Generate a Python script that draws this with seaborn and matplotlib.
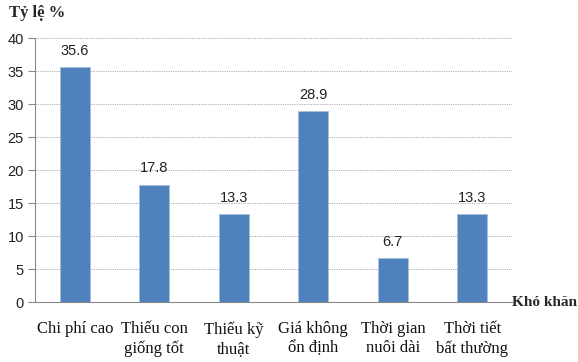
import matplotlib
matplotlib.use("Agg")
import matplotlib.pyplot as plt
import seaborn as sns
import pandas as pd

categories = ["Chi phí cao", "Thiếu con\ngiống tốt", "Thiếu kỹ\nthuật",
              "Giá không\nổn định", "Thời gian\nnuôi dài", "Thời tiết\nbất thường"]
values = [35.6, 17.8, 13.3, 28.9, 6.7, 13.3]
yticks = [0, 5, 10, 15, 20, 25, 30, 35, 40]

sns.set_theme(style="white")
plt.rcParams["font.family"] = ["Liberation Sans", "DejaVu Sans"]
serif = ["Liberation Serif", "DejaVu Serif"]

df = pd.DataFrame({"kho_khan": categories, "ty_le": values})

fig = plt.figure(figsize=(5.78, 3.62), dpi=100)
ax = fig.add_axes([0.0606, 0.1657, 0.8254, 0.7293])

sns.barplot(data=df, x="kho_khan", y="ty_le", color="#4F81BD", saturation=1,
            width=0.38, edgecolor="#A7C0DE", linewidth=0.6, ax=ax, zorder=3)

ax.set_ylim(0, 40)
ax.set_xlim(-0.5, len(categories) - 0.5)
ax.set_yticks(yticks)
ax.set_yticklabels([str(t) for t in yticks], fontsize=10.5, color="#222222")
ax.yaxis.grid(True, linestyle=(0, (1.2, 1.2)), color="#aaaaaa", linewidth=0.7, zorder=0)
ax.xaxis.grid(False)

# category ticks sit on the boundaries between groups
ax.set_xticks([i - 0.5 for i in range(len(categories) + 1)], minor=False)
ax.set_xticklabels([""] * (len(categories) + 1))
ax.set_xticks(range(len(categories)), minor=True)
ax.set_xticklabels(categories, minor=True, fontsize=12, family=serif,
                   color="#111111", linespacing=1.25)
ax.tick_params(axis="x", which="major", length=5, width=0.8, color="#888888", direction="out")
ax.tick_params(axis="x", which="minor", length=0, pad=14)
ax.tick_params(axis="y", length=5, width=0.8, color="#888888", direction="out", pad=3, left=True)

for side in ["top", "right"]:
    ax.spines[side].set_visible(False)
for side in ["left", "bottom"]:
    ax.spines[side].set_color("#888888")
    ax.spines[side].set_linewidth(0.8)

ax.set_xlabel("")
ax.set_ylabel("")

for i, v in enumerate(values):
    ax.text(i, v + 1.4, f"{v:.1f}", ha="center", va="bottom", fontsize=10.5, color="#222222")

fig.text(9 / 578, 1 - 13 / 362, "Tỷ lệ %", ha="left", va="center", fontsize=12,
         fontweight="bold", family=serif)
fig.text(512 / 578, 1 - 302 / 362, "Khó khăn", ha="left", va="center", fontsize=11,
         fontweight="bold", family=serif)

fig.savefig("out.png", dpi=100)
